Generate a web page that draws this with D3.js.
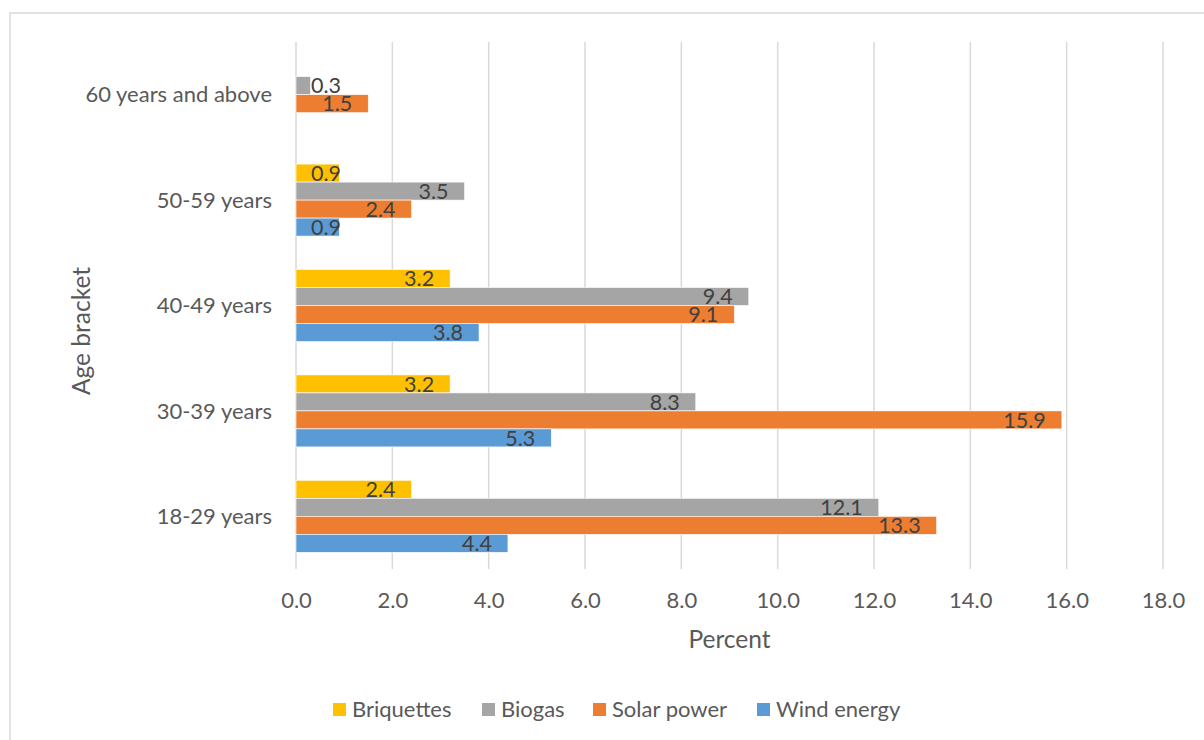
<!DOCTYPE html>
<html>
<head>
<meta charset="utf-8">
<script src="https://cdn.jsdelivr.net/npm/d3@7"></script>
<style>
  html, body { margin: 0; padding: 0; background: #fff; }
  svg { display: block; font-family: Lato, "Open Sans", sans-serif; }
</style>
</head>
<body>
<svg id="chart" width="1204" height="740"></svg>
<script>
// Age brackets, listed top to bottom
const categories = ["60 years and above", "50-59 years", "40-49 years", "30-39 years", "18-29 years"];
// Series, listed in the order the bars stack within each bracket
const seriesNames = ["Briquettes", "Biogas", "Solar power", "Wind energy"];
const seriesColors = ["#FFC000", "#A5A5A5", "#ED7D31", "#5B9BD5"];
// Percent per bracket (null = no bar)
const briquettes = [null, 0.9, 3.2, 3.2, 2.4];
const biogas     = [0.3, 3.5, 9.4, 8.3, 12.1];
const solarPower = [1.5, 2.4, 9.1, 15.9, 13.3];
const windEnergy = [null, 0.9, 3.8, 5.3, 4.4];
const xTicks = [0, 2, 4, 6, 8, 10, 12, 14, 16, 18];

const seriesValues = [briquettes, biogas, solarPower, windEnergy];

const FONT = "Lato, 'Open Sans', sans-serif";
const svg = d3.select("#chart");

// chart frame
svg.append("rect")
  .attr("x", 10).attr("y", 13)
  .attr("width", 1300).attr("height", 800)
  .attr("fill", "#fff")
  .attr("stroke", "#D9D9D9").attr("stroke-width", 1.5);

const plot = { left: 296, right: 1163, top: 42, bottom: 569 };

const x = d3.scaleLinear().domain([0, 18]).range([plot.left, plot.right]);
const y = d3.scaleBand().domain(categories).range([plot.top, plot.bottom]).padding(0);
const barH = 18;
const groupH = barH * seriesNames.length;
const sub = d3.scaleBand().domain(seriesNames)
  .range([(y.bandwidth() - groupH) / 2, (y.bandwidth() + groupH) / 2]).padding(0);

// vertical gridlines
svg.append("g")
  .selectAll("line")
  .data(xTicks)
  .join("line")
  .attr("x1", d => x(d)).attr("x2", d => x(d))
  .attr("y1", plot.top).attr("y2", plot.bottom)
  .attr("stroke", "#D9D9D9").attr("stroke-width", 1.5);

// x axis tick labels
const xAxis = d3.axisBottom(x).tickValues(xTicks).tickFormat(d3.format(".1f")).tickSize(0).tickPadding(0);
const gx = svg.append("g").attr("transform", `translate(0,${plot.bottom})`).call(xAxis);
gx.select(".domain").remove();
gx.selectAll("text")
  .attr("y", 39).attr("dy", null)
  .attr("fill", "#595959")
  .style("font-size", "22px")
  .style("font-family", FONT);

// y axis category labels
const yAxis = d3.axisLeft(y).tickSize(0).tickPadding(0);
const gy = svg.append("g").attr("transform", `translate(${plot.left - 24},0)`).call(yAxis);
gy.select(".domain").remove();
gy.selectAll("text")
  .attr("dy", "0.35em")
  .attr("fill", "#595959")
  .style("font-size", "22px")
  .style("font-family", FONT);

// bars
const rows = [];
categories.forEach((c, i) => {
  seriesNames.forEach((s, j) => {
    const v = seriesValues[j][i];
    if (v !== null) rows.push({ cat: c, series: s, color: seriesColors[j], value: v });
  });
});

const barG = svg.append("g");
barG.selectAll("rect")
  .data(rows)
  .join("rect")
  .attr("x", x(0))
  .attr("y", d => y(d.cat) + sub(d.series))
  .attr("width", d => x(d.value) - x(0))
  .attr("height", sub.bandwidth())
  .attr("fill", d => d.color)
  .attr("stroke", "#fff").attr("stroke-width", 0.6);

// value labels at the inside end of each bar
const labels = barG.selectAll("text")
  .data(rows)
  .join("text")
  .attr("y", d => y(d.cat) + sub(d.series) + sub.bandwidth() / 2)
  .attr("dy", "0.36em")
  .attr("fill", "#404040")
  .style("font-size", "21.5px")
  .text(d => d.value.toFixed(1));

labels.each(function (d) {
  const w = this.getComputedTextLength();
  let end = x(d.value) - 16;
  if (end - w < x(0) + 15) end = x(0) + 15 + w;
  d3.select(this).attr("x", end - w);
});

// axis titles
svg.append("text")
  .attr("x", (plot.left + plot.right) / 2)
  .attr("y", 648)
  .attr("text-anchor", "middle")
  .attr("fill", "#595959")
  .style("font-size", "24.5px")
  .text("Percent");

svg.append("text")
  .attr("transform", "translate(90,331) rotate(-90)")
  .attr("text-anchor", "middle")
  .attr("fill", "#595959")
  .style("font-size", "24.5px")
  .text("Age bracket");

// legend
const legendStarts = [333, 482, 593, 757];
const legend = svg.append("g");
seriesNames.forEach((s, j) => {
  const g = legend.append("g").attr("transform", `translate(${legendStarts[j]},703)`);
  g.append("rect").attr("width", 13).attr("height", 13).attr("fill", seriesColors[j]);
  g.append("text")
    .attr("x", 19).attr("y", 14)
    .attr("fill", "#595959")
    .style("font-size", "22px")
    .text(s);
});
</script>
</body>
</html>
